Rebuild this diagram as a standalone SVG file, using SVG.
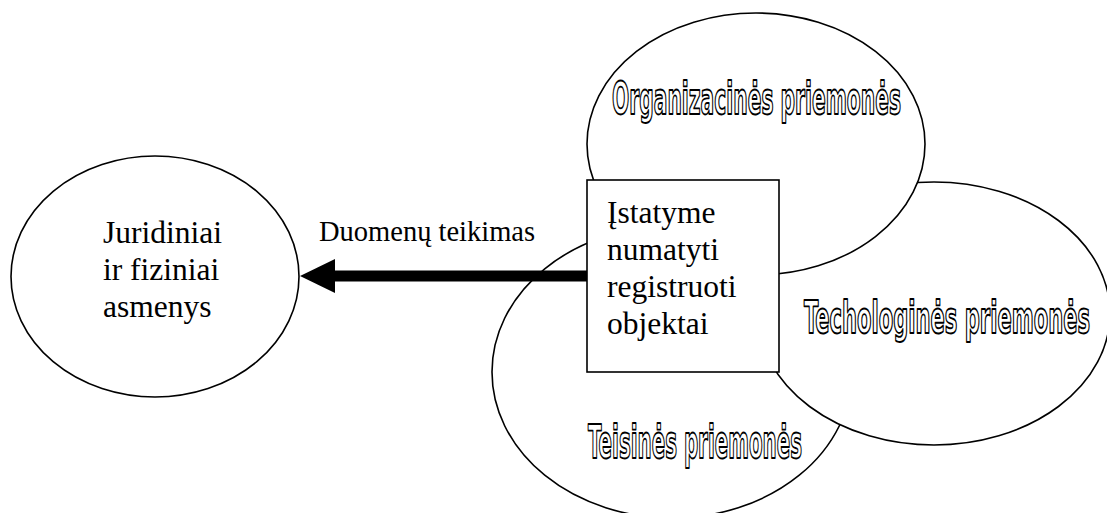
<svg xmlns="http://www.w3.org/2000/svg" width="1107" height="513" viewBox="0 0 1107 513">
<style>
.shape{fill:#fff;stroke:#000;stroke-width:1.6}
.serif{font-family:"Liberation Serif","Times New Roman",serif;font-size:31.5px;fill:#000}
.art{font-family:"Liberation Sans Narrow","DejaVu Sans Condensed","Liberation Sans",sans-serif;font-weight:bold;fill:#fff;stroke:#000;stroke-width:1.9;stroke-linejoin:round}
</style>
<rect width="1107" height="513" fill="#fff"/>
<g id="juridiniai">
<ellipse class="shape" cx="155" cy="276.5" rx="144" ry="120.5"/>
<text class="serif" x="103" y="243">Juridiniai</text>
<text class="serif" x="103" y="280">ir fiziniai</text>
<text class="serif" x="103" y="317">asmenys</text>
</g>
<g id="teisines">
<ellipse class="shape" cx="672" cy="372" rx="180" ry="146"/>
<text class="art" x="588" y="458" font-size="47" textLength="214" lengthAdjust="spacingAndGlyphs">Teisinės priemonės</text>
</g>
<g id="technologines">
<ellipse class="shape" cx="934" cy="313.5" rx="176" ry="131.5"/>
<text class="art" x="804" y="333" font-size="44" textLength="286" lengthAdjust="spacingAndGlyphs">Techologinės priemonės</text>
</g>
<g id="organizacines">
<ellipse class="shape" cx="756" cy="144" rx="169" ry="131"/>
<text class="art" x="612" y="114" font-size="44" textLength="289" lengthAdjust="spacingAndGlyphs">Organizacinės priemonės</text>
</g>
<g id="objektai">
<rect class="shape" x="587" y="180" width="192" height="192"/>
<text class="serif" x="607" y="223">Įstatyme</text>
<text class="serif" x="607" y="260">numatyti</text>
<text class="serif" x="607" y="297">registruoti</text>
<text class="serif" x="607" y="334">objektai</text>
</g>
<g id="connectors">
<rect x="334" y="270.5" width="253" height="11" fill="#000"/>
<polygon points="300,276 335,259 335,293" fill="#000"/>
<text class="serif" x="319" y="241" style="font-size:28.5px">Duomenų teikimas</text>
</g>
</svg>
